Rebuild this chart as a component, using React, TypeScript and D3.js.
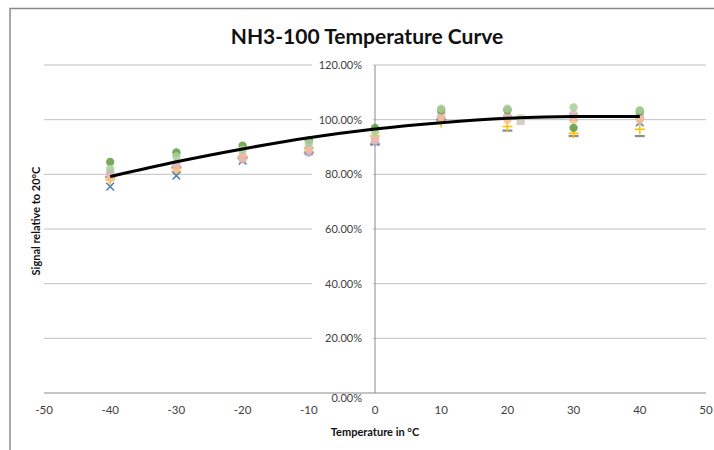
import React, { useEffect, useRef } from 'react';
import * as d3 from 'd3';

const temps = [-40, -30, -20, -10, 0, 10, 20, 30, 40];
const xTicks = [-50, -40, -30, -20, -10, 0, 10, 20, 30, 40, 50];
const yTicks = [0, 0.2, 0.4, 0.6, 0.8, 1.0, 1.2];

// signal relative to 20°C, in %
const seriesGray = [79, 82.5, 86, 88, 91, 100, 96, 94, 94];
const seriesYellow = [78, 81, 86.5, 89.5, 94, 99, 97.5, 95, 96.5];
const seriesBlue = [75.5, 79.5, 85, 88.5, 92, 101.5, 102.5, 101, 99];
const seriesPurple = [80.5, 83, 85.5, 88, 92, 101, 101, 101, 100.5];
const seriesPeach = [78.5, 82, 86, 89, 93, 101, 100, 100, 100];
const seriesPink = [80, 84, 87, 90, 92.5, 102.5, 101.5, 102, 102];
const seriesDarkGreen = [84.5, 88, 90.5, 92.5, 97, 103.5, 103.5, 97, 103];
const seriesLightGreen = [82, 86.5, 89, 91.5, 95.5, 104, 104, 104.5, 103.5];
const extraTemps = [22, 22];
const extraValues = [99.5, 100.5];
const trendValues = [79.2, 84.6, 89.3, 93.4, 96.6, 98.9, 100.5, 101.2, 101.2];

const series = [
  { values: seriesGray, color: '#8c8c8c', shape: 'dash' },
  { values: seriesYellow, color: '#ffc000', shape: 'plus' },
  { values: seriesBlue, color: '#4f81bd', shape: 'x' },
  { values: seriesPurple, color: '#b3a2c7', shape: 'circle' },
  { values: seriesPeach, color: '#fac090', shape: 'circle' },
  { values: seriesPink, color: '#e6b9b8', shape: 'circle' },
  { values: seriesDarkGreen, color: '#5f9a40', shape: 'circle' },
  { values: seriesLightGreen, color: '#a9cf98', shape: 'circle' },
];

export default function App() {
  const ref = useRef<SVGSVGElement>(null);

  useEffect(() => {
    if (!ref.current) return;
    const svg = d3.select(ref.current);
    svg.selectAll('*').remove();
    const font = 'Lato, "Open Sans", sans-serif';

    const x = d3.scaleLinear().domain([-50, 50]).range([44, 706]);
    const y = d3.scaleLinear().domain([0, 1.2]).range([393, 65]);

    svg.append('rect').attr('width', 714).attr('height', 450).attr('fill', '#fff');

    // chart frame (cropped)
    svg.append('path')
      .attr('d', 'M10,451 L10,8.5 L715,8.5')
      .attr('fill', 'none')
      .attr('stroke', '#8a8a8a')
      .attr('stroke-width', 1.5);

    // gridlines
    svg.append('g').selectAll('line')
      .data(yTicks.filter(d => d > 0))
      .enter().append('line')
      .attr('x1', x(-50)).attr('x2', x(50))
      .attr('y1', d => y(d)).attr('y2', d => y(d))
      .attr('stroke', '#c0c0c0').attr('stroke-width', 1);

    // axes
    svg.append('line')
      .attr('x1', x(-50)).attr('x2', x(50))
      .attr('y1', y(0)).attr('y2', y(0))
      .attr('stroke', '#8a8a8a');
    svg.append('line')
      .attr('x1', x(0)).attr('x2', x(0))
      .attr('y1', y(1.2)).attr('y2', y(0))
      .attr('stroke', '#8a8a8a');

    // y tick labels with white backing
    const yl = svg.append('g');
    yTicks.forEach(t => {
      const ty = t === 0 ? y(t) + 5 : y(t);
      if (t > 0) {
        yl.append('rect')
          .attr('x', 312).attr('y', ty - 6)
          .attr('width', 61).attr('height', 12)
          .attr('fill', '#fff');
      }
      yl.append('text')
        .attr('x', 362).attr('y', ty)
        .attr('dy', '0.35em')
        .attr('text-anchor', 'end')
        .attr('font-family', font)
        .attr('font-size', 11)
        .attr('fill', '#404040')
        .text(d3.format('.2%')(t));
    });

    // x tick labels
    svg.append('g').selectAll('text')
      .data(xTicks)
      .enter().append('text')
      .attr('x', d => x(d)).attr('y', 414)
      .attr('text-anchor', 'middle')
      .attr('font-family', font)
      .attr('font-size', 11.5)
      .attr('fill', '#404040')
      .text(d => d);

    // markers
    const g = svg.append('g');
    series.forEach(s => {
      s.values.forEach((v, i) => {
        const cx = x(temps[i]);
        const cy = y(v / 100);
        if (s.shape === 'circle') {
          g.append('circle').attr('cx', cx).attr('cy', cy).attr('r', 4.2)
            .attr('fill', s.color).attr('opacity', 0.85);
        } else if (s.shape === 'x') {
          g.append('path')
            .attr('transform', `translate(${cx},${cy})`)
            .attr('d', d3.symbol().type(d3.symbolTimes).size(40)())
            .attr('fill', 'none').attr('stroke', s.color).attr('stroke-width', 1.6);
        } else if (s.shape === 'plus') {
          g.append('path')
            .attr('d', `M${cx - 5},${cy} H${cx + 5} M${cx},${cy - 5} V${cy + 5}`)
            .attr('stroke', s.color).attr('stroke-width', 1.6);
        } else {
          g.append('line')
            .attr('x1', cx - 5).attr('x2', cx + 5).attr('y1', cy).attr('y2', cy)
            .attr('stroke', s.color).attr('stroke-width', 2.2);
        }
      });
    });
    extraTemps.forEach((t, i) => {
      g.append('rect')
        .attr('x', x(t) - 4).attr('y', y(extraValues[i] / 100) - 4)
        .attr('width', 8).attr('height', 8)
        .attr('fill', i === 0 ? '#c4c4c4' : '#d9d0b0').attr('opacity', 0.8);
    });

    // trendline
    const line = d3.line<number>()
      .x((_, i) => x(temps[i]))
      .y(d => y(d / 100))
      .curve(d3.curveMonotoneX);
    svg.append('path')
      .datum(trendValues)
      .attr('d', line)
      .attr('fill', 'none')
      .attr('stroke', '#000')
      .attr('stroke-width', 3);

    // titles
    svg.append('text')
      .attr('x', 367).attr('y', 44)
      .attr('text-anchor', 'middle')
      .attr('font-family', font)
      .attr('font-weight', 'bold')
      .attr('font-size', 21)
      .attr('fill', '#111')
      .text('NH3-100 Temperature Curve');
    svg.append('text')
      .attr('x', 375).attr('y', 436)
      .attr('text-anchor', 'middle')
      .attr('font-family', font)
      .attr('font-weight', 'bold')
      .attr('font-size', 11)
      .attr('fill', '#111')
      .text('Temperature in °C');
    svg.append('text')
      .attr('transform', 'translate(40,221) rotate(-90)')
      .attr('text-anchor', 'middle')
      .attr('font-family', font)
      .attr('font-weight', 'bold')
      .attr('font-size', 11)
      .attr('fill', '#111')
      .text('Signal relative to 20°C');
  }, []);

  return (
    <svg
      ref={ref}
      width={714}
      height={450}
      style={{ position: 'absolute', left: 0, top: 0 }}
    />
  );
}
